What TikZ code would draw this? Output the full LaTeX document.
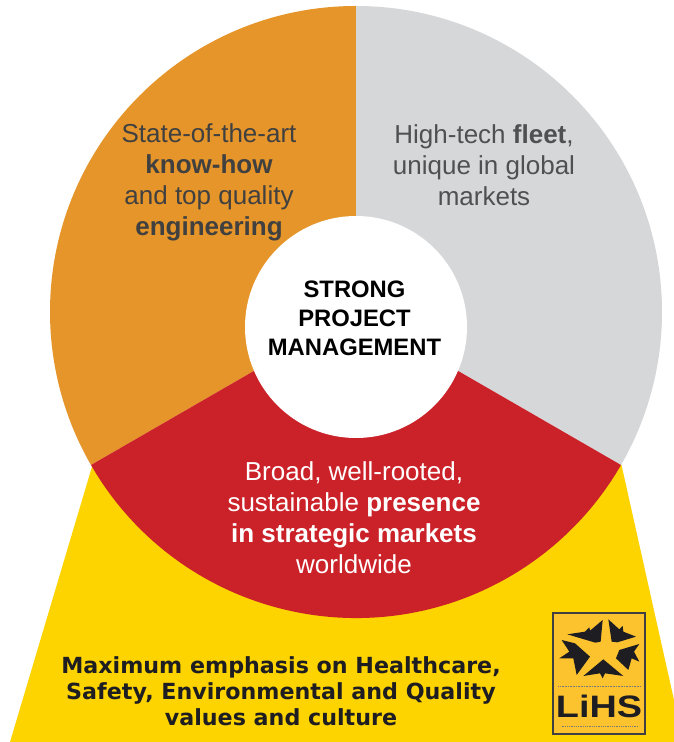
\documentclass[tikz,border=0pt]{standalone}
\usepackage{fontspec}
\setmainfont{Liberation Sans}
\newfontfamily\dejavu{DejaVu Sans}
\definecolor{cOrange}{HTML}{E5952A}
\definecolor{cGray}{HTML}{D6D7D9}
\definecolor{cRed}{HTML}{CB2229}
\definecolor{cYellow}{HTML}{FDD300}
\definecolor{cLogo}{HTML}{FDC32F}
\definecolor{cInk}{HTML}{1E1E22}
\definecolor{cTextO}{HTML}{404040}
\definecolor{cTextG}{HTML}{4F5052}
\tikzset{
  seglabel/.style={align=center,inner sep=0pt,font=\fontsize{26}{31}\selectfont},
  hublabel/.style={align=center,inner sep=0pt,font=\fontsize{23.8}{29}\selectfont\bfseries,text=black},
  baselabel/.style={align=center,inner sep=0pt,font=\fontsize{22.2}{26}\selectfont\dejavu\bfseries,text=cInk},
  logopiece/.style={fill=cInk,draw=none}
}
\begin{document}
\begin{tikzpicture}[x=1pt,y=1pt]
\useasboundingbox (0,0) rectangle (674,742);
\fill[white] (0,0) rectangle (674,742);
% yellow base
\fill[cYellow] (92.5,277) -- (10,0) -- (674,0) -- (674,42) -- (621.5,277) -- cycle;
% sectors (centre 356,430; radius 306pt)
\coordinate (hub) at (356,430);
\fill[cOrange] (hub) -- (356,736) arc[start angle=90,end angle=210,radius=306pt] -- cycle;
\fill[cGray] (hub) -- (356,736) arc[start angle=90,end angle=-30,radius=306pt] -- cycle;
\fill[cRed] (hub) -- ++(210:306pt) arc[start angle=210,end angle=330,radius=306pt] -- cycle;
% hub
\node[circle,fill=white,minimum size=222pt,inner sep=0pt] (hubdisc) at (356,415) {};
\node[hublabel] (hubtext) at (354.5,424) {STRONG\\PROJECT\\MANAGEMENT};
% segment labels
\node[seglabel,text=cTextO] (orangetext) at (209,560) {State-of-the-art\\\textbf{know-how}\\and top quality\\\textbf{engineering}};
\node[seglabel,text=cTextG] (graytext) at (484,577) {High-tech \textbf{fleet},\\unique in global\\markets};
\node[seglabel,text=white] (redtext) at (354,224) {Broad, well-rooted,\\sustainable \textbf{presence}\\\textbf{in strategic markets}\\worldwide};
\node[baselabel] (basetext) at (281,51) {Maximum emphasis on Healthcare,\\Safety, Environmental and Quality\\values and culture};
% logo
\node[draw=cInk!85,line width=1.4pt,fill=cLogo,minimum width=92pt,minimum height=121pt,inner sep=0pt] (logo) at (599,68.5) {};
\begin{scope}[shift={(530,152)},x=0.3333pt,y=-0.3333pt]
\fill[logopiece] (112,133) -- (165,125) -- (178,112) -- (180,122) -- (218,90) -- (212,155) -- (196,158) -- cycle;
\fill[logopiece] (235,88) -- (268,118) -- (278,108) -- (280,125) -- (318,140) -- (262,157) -- (245,155) -- cycle;
\fill[logopiece] (268,180) -- (328,162) -- (312,185) -- (328,215) -- (305,205) -- (295,240) -- (258,205) -- cycle;
\fill[logopiece] (220,208) -- (280,258) -- (225,250) -- (218,265) -- (210,250) -- (160,258) -- cycle;
\fill[logopiece] (95,150) -- (135,160) -- (180,200) -- (140,255) -- (130,205) -- (88,205) -- (118,185) -- cycle;
\draw[cInk!60,line width=0.6pt,densely dotted] (85,288) -- (330,288);
\draw[cInk!60,line width=0.8pt,densely dotted] (95,408) -- (325,408);
\end{scope}
\node[inner sep=0pt,font=\fontsize{31}{31}\selectfont\bfseries,text=cInk,xscale=1.22] (logotext) at (599,36) {LiHS};
\end{tikzpicture}
\end{document}
